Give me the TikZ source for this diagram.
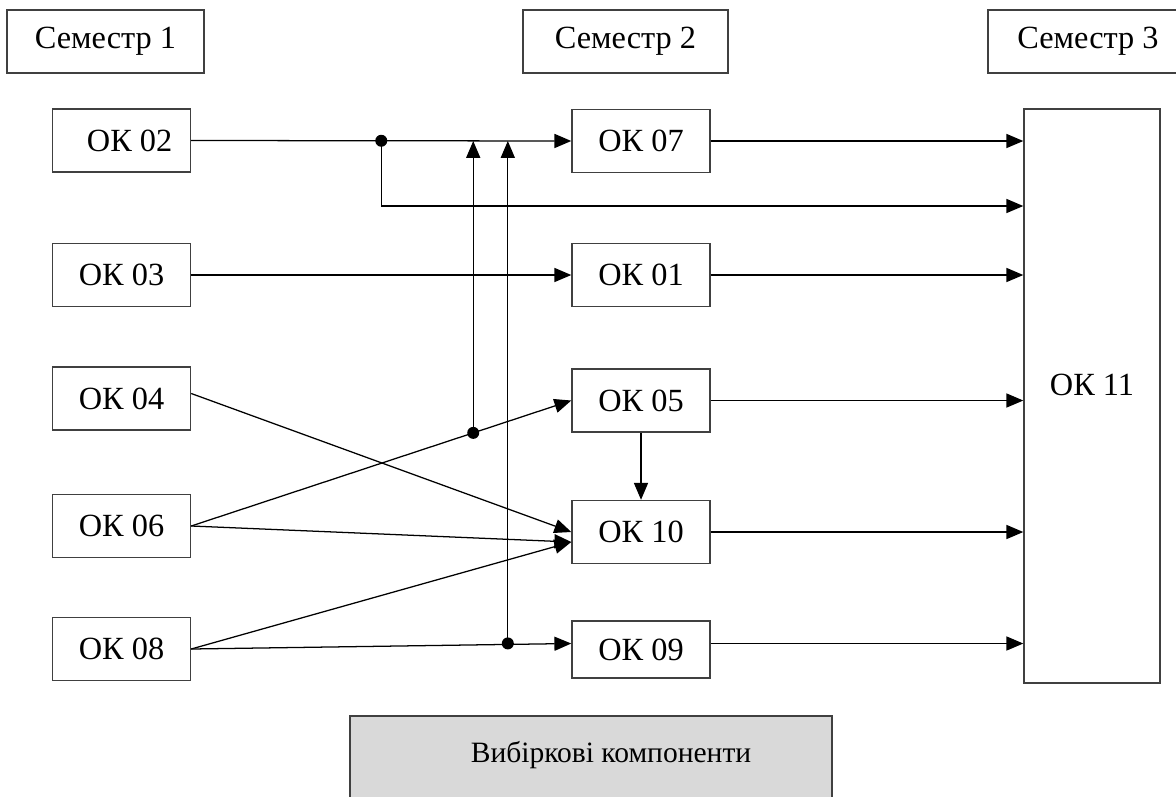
\documentclass[tikz,border=0pt]{standalone}
\usepackage{fontspec}
\setmainfont{Liberation Serif}
\usetikzlibrary{positioning, arrows.meta, calc}

\begin{document}
\begin{tikzpicture}[
					x=0.025cm, y=-0.025cm,
					font=\fontsize{23}{27}\selectfont,
					box/.style={draw=black!75, line width=1pt, minimum width=3.45cm, minimum height=1.575cm, inner sep=0pt},
					sem/.style={box, minimum height=1.575cm},
					arr/.style={-{Triangle[length=12pt,width=10pt]}, line width=0.9pt},
					dot/.style={circle, fill, inner sep=0pt, minimum size=0.3cm}
					]
					\useasboundingbox (0,0) rectangle (1176,796);
					\node[sem, minimum width=4.925cm] (sem1) at (105.5,41.5) {Семестр 1};
					\node[sem, minimum width=5.125cm] (sem2) at (625.5,41.5) {Семестр 2};
					\node[sem, minimum width=5cm] (sem3) at (1088,41.5) {Семестр 3\hspace{0.65em}};

					\node[box] (ok02) at (121.5,140.5) {\hspace{0.5em}ОК 02};
					\node[box] (ok03) at (121.5,275) {ОК 03};
					\node[box] (ok04) at (121.5,398.5) {ОК 04};
					\node[box] (ok06) at (121.5,526) {ОК 06};
					\node[box] (ok08) at (121.5,649) {ОК 08};

					\node[box] (ok07) at (641,141) {ОК 07};
					\node[box] (ok01) at (641,275) {ОК 01};
					\node[box] (ok05) at (641,400.5) {ОК 05};
					\node[box] (ok10) at (641,532) {ОК 10};
					\node[box, minimum height=1.425cm] (ok09) at (641,649.5) {ОК 09};

					\node[draw=black!75, line width=1pt, minimum width=3.4cm, minimum height=14.35cm,
						text depth=0.55cm] (ok11) at (1092,396) {ОК 11};

					\node[draw=black!75, line width=1pt, fill=black!15, inner sep=0pt, minimum width=12.05cm,
						text height=1.15cm, text depth=1.3cm, anchor=base, font=\fontsize{21}{25}\selectfont]
						(vib) at (591,762) {\hspace*{1cm}Вибіркові компоненти};

					\node[dot] (j1) at ($(ok02.east)!0.5!(ok07.west)$) {};
					\node[dot] (j2) at ($(ok06.east)!0.742!(ok05.west)$) {};
					\node[dot] (j3) at ($(ok08.east)!0.833!(ok09.west)+(0,-6)$) {};
					\coordinate (in2) at (ok11.west |- 0,206);
					\coordinate (ok10a) at ($(ok10.west)+(0,10)$);
					\coordinate (ok09a) at ($(ok09.west)+(0,-6)$);

					\draw[arr] (ok02.east) -- (ok07.west);
					\draw[arr] (j1.center) |- (in2);
					\draw[arr] (ok03) -- (ok01);
					\draw[arr] (j2.center) -- (j2 |- ok07.west);
					\draw[arr] (j3.center) -- (j3 |- ok07.west);
					\draw[arr] (ok06.east) -- (ok05.west);
					\draw[arr] (ok04.east) ++(0,-5) -- (ok10.west);
					\draw[arr] (ok06.east) -- (ok10a);
					\draw[arr] (ok08.east) -- (ok10a);
					\draw[arr] (ok08.east) -- (ok09a);
					\draw[arr] (ok05) -- (ok10);

					\draw[arr] (ok07.east) -- (ok07.east -| ok11.west);
					\draw[arr] (ok01.east) -- (ok01.east -| ok11.west);
					\draw[arr] (ok05.east) -- (ok05.east -| ok11.west);
					\draw[arr] (ok10.east) -- (ok10.east -| ok11.west);
					\draw[arr] (ok09a -| ok09.east) -- (ok09a -| ok11.west);
				\end{tikzpicture}
\end{document}
